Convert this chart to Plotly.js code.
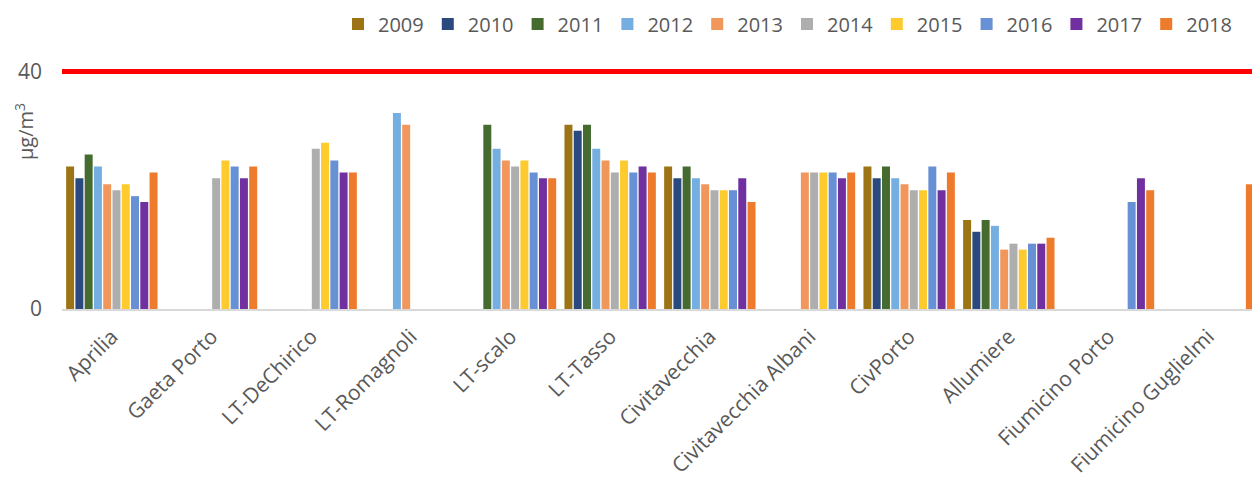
<!DOCTYPE html>
<html>
<head>
<meta charset="utf-8">
<script src="https://cdn.plot.ly/plotly-3.0.1.min.js"></script>
<style>html,body{margin:0;padding:0;background:#fff;}#chart{width:1252px;height:477px;}</style>
</head>
<body>
<div id="chart"></div>
<script>
const categories = ['Aprilia','Gaeta Porto','LT-DeChirico','LT-Romagnoli','LT-scalo','LT-Tasso','Civitavecchia','Civitavecchia Albani','CivPorto','Allumiere','Fiumicino Porto','Fiumicino Guglielmi'];
const years = ['2009','2010','2011','2012','2013','2014','2015','2016','2017','2018'];

const v2009 = [24, null, null, null, null, 31, 24, null, 24, 15, null, null];
const v2010 = [22, null, null, null, null, 30, 22, null, 22, 13, null, null];
const v2011 = [26, null, null, null, 31, 31, 24, null, 24, 15, null, null];
const v2012 = [24, null, null, 33, 27, 27, 22, null, 22, 14, null, null];
const v2013 = [21, null, null, 31, 25, 25, 21, 23, 21, 10, null, null];
const v2014 = [20, 22, 27, null, 24, 23, 20, 23, 20, 11, null, null];
const v2015 = [21, 25, 28, null, 25, 25, 20, 23, 20, 10, null, null];
const v2016 = [19, 24, 25, null, 23, 23, 20, 23, 24, 11, 18, null];
const v2017 = [18, 22, 23, null, 22, 24, 22, 22, 20, 11, 22, null];
const v2018 = [23, 24, 23, null, 22, 23, 18, 23, 23, 12, 20, 21];

const limitValue = 40;
const yTicks = [0, 40];

const seriesValues = [v2009, v2010, v2011, v2012, v2013, v2014, v2015, v2016, v2017, v2018];
const colors = ['#9C7416','#2A4A7F','#456B30','#75AEE0','#F2975C','#AEAEAE','#FDCB2E','#6890D4','#7030A0','#EE7B2C'];

const traces = years.map((yr, i) => ({
  type: 'bar',
  name: yr,
  x: categories,
  y: seriesValues[i],
  marker: {color: colors[i]},
  hoverinfo: 'x+y+name'
}));

const layout = {
  width: 1252,
  height: 477,
  margin: {l: 62, r: 0, t: 65, b: 168, pad: 0, autoexpand: false},
  paper_bgcolor: '#ffffff',
  plot_bgcolor: '#ffffff',
  barmode: 'group',
  bargap: 0.07,
  bargroupgap: 0.14,
  font: {family: 'Open Sans, sans-serif', color: '#595959'},
  showlegend: true,
  legend: {
    orientation: 'h',
    xref: 'container',
    yref: 'container',
    x: 338 / 1252,
    xanchor: 'left',
    y: 1 - 24 / 477,
    yanchor: 'middle',
    entrywidth: 44.8,
    entrywidthmode: 'pixels',
    font: {family: 'Open Sans, sans-serif', size: 20, color: '#595959'},
    traceorder: 'normal',
    bgcolor: 'rgba(0,0,0,0)'
  },
  xaxis: {
    type: 'category',
    range: [-0.5, 11.44],
    tickangle: -45,
    tickfont: {family: 'Open Sans, sans-serif', size: 21, color: '#595959'},
    showline: true,
    linecolor: '#D9D9D9',
    linewidth: 2,
    showgrid: false,
    zeroline: false,
    ticks: '',
    ticklabelstandoff: 5,
    automargin: false,
    fixedrange: true
  },
  yaxis: {
    range: [0, 41.08],
    tickvals: yTicks,
    ticktext: yTicks.map(String),
    tickfont: {family: 'Open Sans, sans-serif', size: 21, color: '#595959'},
    showgrid: false,
    zeroline: false,
    showline: false,
    ticks: '',
    ticklabelstandoff: 19,
    automargin: false,
    fixedrange: true
  },
  shapes: [{
    type: 'line', xref: 'paper', x0: 0, x1: 1, yref: 'y', y0: limitValue, y1: limitValue,
    line: {color: '#FF0000', width: 5}, layer: 'above'
  }],
  annotations: [{
    text: 'μg/m<sup>3</sup>',
    textangle: -90,
    xref: 'paper', x: 0, xanchor: 'center', xshift: -38,
    yref: 'paper', y: (309 - 132) / 244, yanchor: 'middle',
    showarrow: false,
    font: {family: 'Open Sans, sans-serif', size: 20, color: '#595959'}
  }]
};

Plotly.newPlot('chart', traces, layout, {displayModeBar: false, staticPlot: true});
</script>
</body>
</html>
